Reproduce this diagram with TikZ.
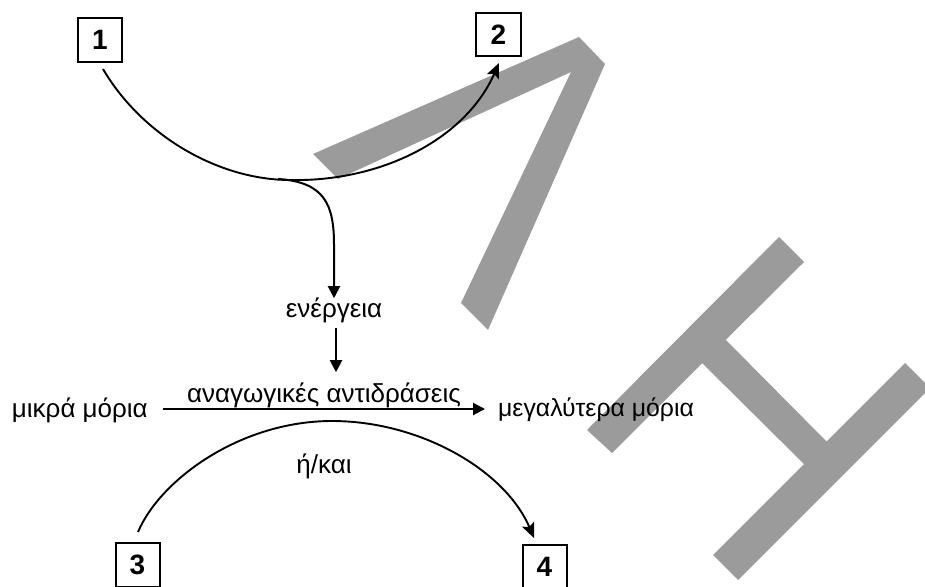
\documentclass[tikz,border=0pt]{standalone}
\usepackage{fontspec}
\setmainfont{Liberation Sans}
\usetikzlibrary{arrows.meta}
\definecolor{wm}{RGB}{155,155,155}
\begin{document}
\begin{tikzpicture}[x=1pt,y=-1pt,
  numbox/.style={draw, line width=2pt, minimum width=44pt, minimum height=44pt, inner sep=0pt, font=\fontsize{28}{28}\selectfont\bfseries},
  lbl/.style={inner sep=0pt, font=\fontsize{26}{30}\selectfont},
  conn/.style={line width=1.9pt, -{Stealth[length=15pt,width=13pt,inset=3pt]}},
  straight/.style={line width=2pt, -{Triangle[length=12pt,width=12pt]}}]
\useasboundingbox (0,0) rectangle (925,586);
% watermark
\begin{scope}
\clip (0,0) rectangle (925,586);
\fill[wm] (313,154) -- (579,37) -- (605,64) -- (488,330) -- (461,303) -- (571,72) -- (338,179) -- cycle;
\fill[wm] (587,430) -- (779,237) -- (804,262) -- (612,453) -- cycle;
\fill[wm] (713,555) -- (905,363) -- (930,388) -- (738,580) -- cycle;
\fill[wm] (698,359) -- (721,335) -- (831,446) -- (808,468) -- cycle;
\end{scope}
% boxes
\node[numbox] (n1) at (100,40) {1};
\node[numbox, minimum width=45pt, minimum height=43pt] (n2) at (498.5,34.5) {2};
\node[numbox] (n3) at (137.5,565) {3};
\node[numbox] (n4) at (544.5,567) {4};
% texts
\node[lbl, anchor=base] (en) at (334,317) {ενέργεια};
\node[lbl, anchor=base] (red) at (324,402) {αναγωγικές αντιδράσεις};
\node[lbl, anchor=base east] (small) at (148,417) {μικρά μόρια};
\node[lbl, anchor=base west, font=\fontsize{24.8}{30}\selectfont] (big) at (498,416) {μεγαλύτερα μόρια};
\node[lbl, anchor=base] (or) at (324,473) {ή/και};
% connectors
\draw[conn] ([shift={(3,6)}]n1.south) .. controls (143,137) and (220,180) .. (290,180)
  .. controls (380,182) and (465,140) .. ([shift={(0.5,6)}]n2.south);
\coordinate (j) at (278,179);
\draw[straight] (j) .. controls (325,182) and (334,205) .. (334,245) -- ([yshift=-1]en.north);
\draw[straight] ([shift={(2,5)}]en.south) -- ([shift={(12,-10)}]red.north);
\draw[straight] ([shift={(15,-8)}]small.base east) -- ([shift={(-13,-7)}]big.base west);
\draw[conn] ([shift={(0.5,-10)}]n3.north) .. controls (160,480) and (240,421) .. (332,421)
  .. controls (420,421) and (505,470) .. ([shift={(-10.5,-6)}]n4.north);
\end{tikzpicture}
\end{document}
